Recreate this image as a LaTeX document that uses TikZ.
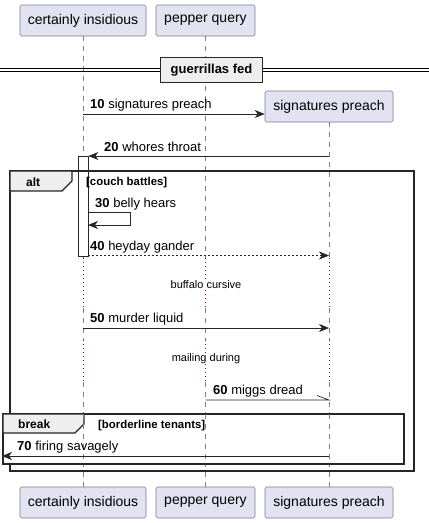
\documentclass[tikz,border=0pt]{standalone}
\usepackage{fontspec}
\setmainfont{Liberation Sans}
\usetikzlibrary{arrows.meta}
\definecolor{partfill}{HTML}{E2E2F0}
\definecolor{partdraw}{HTML}{7C7C94}
\definecolor{lifeline}{HTML}{7F7F7F}
\definecolor{delayc}{HTML}{A80036}
\definecolor{tabfill}{HTML}{EEEEEE}
\tikzset{
  x=1pt, y=-1pt,
  partbox/.style={draw=partdraw, fill=partfill, rounded corners=1.5pt, line width=0.6pt,
    minimum height=31pt, inner xsep=3pt, font=\fontsize{14}{16}\selectfont, anchor=center},
  life/.style={draw=lifeline, dash pattern=on 5pt off 5pt, line width=0.6pt},
  delayline/.style={draw=delayc, dash pattern=on 1pt off 3pt, line width=0.8pt},
  msg/.style={draw=black!85, line width=0.7pt, -{Stealth[length=10pt,width=8pt,inset=3pt]}},
  msgdash/.style={msg, dash pattern=on 2pt off 2pt},
  mlabel/.style={font=\fontsize{13}{15}\selectfont, anchor=base west, inner sep=0pt},
  dlabel/.style={font=\fontsize{11}{13}\selectfont, anchor=base, inner sep=0pt, fill=white},
  frame/.style={draw=black!85, line width=1.4pt},
  tab/.style={draw=black!85, line width=1.2pt, fill=tabfill},
  flabel/.style={font=\bfseries\fontsize{12}{14}\selectfont, anchor=base west, inner sep=0pt},
  glabel/.style={font=\bfseries\fontsize{11.4}{13}\selectfont, anchor=base west, inner sep=0pt},
}
\begin{document}
\begin{tikzpicture}
\useasboundingbox (0,0) rectangle (429,523);
% participants
\node[partbox, minimum width=126pt] (ci) at (83,20.5) {certainly insidious};
\node[partbox, minimum width=99pt] (pq) at (205.5,20.5) {pepper query};
\node[partbox, minimum width=126pt] (cib) at (83,502.5) {certainly insidious};
\node[partbox, minimum width=99pt] (pqb) at (205.5,502.5) {pepper query};
\node[partbox, minimum width=128pt] (spb) at (329,502.5) {signatures preach};
\node[partbox, minimum width=128pt] (sp) at (329,106.5) {signatures preach};
% lifeline helper coordinates
\coordinate (ciA) at (83,258); \coordinate (ciB) at (83,308);
\coordinate (ciC) at (83,340); \coordinate (ciD) at (83,382);
\coordinate (pqA) at (205.5,258); \coordinate (pqB) at (205.5,308);
\coordinate (pqC) at (205.5,340); \coordinate (pqD) at (205.5,382);
\coordinate (spA) at (329,258); \coordinate (spB) at (329,308);
\coordinate (spC) at (329,340); \coordinate (spD) at (329,382);
% lifelines
\draw[life] (ci.south) -- (ciA) (ciB) -- (ciC) (ciD) -- (cib.north);
\draw[life] (pq.south) -- (pqA) (pqB) -- (pqC) (pqD) -- (pqb.north);
\draw[life] (sp.south) -- (spA) (spB) -- (spC) (spD) -- (spb.north);
\draw[delayline] (ciA) -- (ciB) (ciC) -- (ciD);
\draw[delayline] (pqA) -- (pqB) (pqC) -- (pqD);
\draw[delayline] (spA) -- (spB) (spC) -- (spD);
% divider
\coordinate (dL) at (0,69.5); \coordinate (dR) at (429,69.5);
\draw[line width=0.8pt] ([yshift=1.6pt]dL) -- ([yshift=1.6pt]dR);
\draw[line width=0.8pt] ([yshift=-1.6pt]dL) -- ([yshift=-1.6pt]dR);
\node[draw=black!85, line width=1.6pt, fill=tabfill, minimum width=102pt, minimum height=25pt,
  font=\bfseries\fontsize{13}{15}\selectfont] (div) at (211.5,70) {guerrillas fed};
% message 10
\coordinate (m10s) at (83,114);
\draw[msg] (m10s) -- (m10s -| sp.west);
\node[mlabel] (l10) at (90,108) {\textbf{10} signatures preach};
% activation
\node[draw=black!85, fill=white, line width=0.8pt, minimum width=10pt, minimum height=99.5pt,
  inner sep=0pt, anchor=north] (act) at (83,156) {};
% message 20
\coordinate (m20s) at (329,156);
\draw[msg] (m20s) -- (m20s -| act.east);
\node[mlabel] (l20) at (104,151) {\textbf{20} whores throat};
% alt frame
\draw[frame] (10,171) rectangle (414,471);
\draw[tab] (10,171) -- (72,171) -- (72,181) -- (62,191) -- (10,191) -- cycle;
\node[flabel] (altl) at (26,186) {alt};
\node[glabel] (altc) at (86,185.5) {[couch battles]};
% message 30 self
\coordinate (m30a) at (88,212); \coordinate (m30b) at (130,212);
\coordinate (m30c) at (130,225); \coordinate (m30d) at (88,225);
\draw[msg] (m30a) -- (m30b) -- (m30c) -- (m30d);
\node[mlabel] (l30) at (95,207) {\textbf{30} belly hears};
% message 40
\coordinate (m40s) at (88,255.5);
\draw[msgdash] (m40s) -- (m40s -| sp.south);
\node[mlabel] (l40) at (90,250) {\textbf{40} heyday gander};
% delay 1
\node[dlabel] (d1) at (206,288.5) {buffalo cursive};
% message 50
\coordinate (m50s) at (83,328);
\draw[msg] (m50s) -- (m50s -| sp.south);
\node[mlabel] (l50) at (90,322) {\textbf{50} murder liquid};
% delay 2
\node[dlabel] (d2) at (206,361.5) {mailing during};
% message 60
\coordinate (m60s) at (205.5,400); \coordinate (m60e) at (329,400);
\draw[draw=black!85, line width=0.7pt] (m60s) -- (m60e) -- ++(-12,-4.5);
\node[mlabel] (l60) at (213,394) {\textbf{60} miggs dread};
% break frame
\draw[frame, fill=white] (3,414) rectangle (404,464);
\draw[tab] (3,414) -- (84,414) -- (84,424) -- (75,433) -- (3,433) -- cycle;
\node[flabel] (brl) at (18,428.5) {break};
\node[glabel] (brc) at (98,428) {[borderline tenants]};
% message 70
\coordinate (m70s) at (329,456); \coordinate (m70e) at (2,456);
% redraw lifeline pieces over break frame fill
\draw[life] (83,414) -- (83,464);
\draw[life] (205.5,414) -- (205.5,464);
\draw[life] (329,414) -- (329,464);
\draw[msg] (m70s) -- (m70e);
\node[mlabel] (l70) at (17,450) {\textbf{70} firing savagely};
\end{tikzpicture}
\end{document}
